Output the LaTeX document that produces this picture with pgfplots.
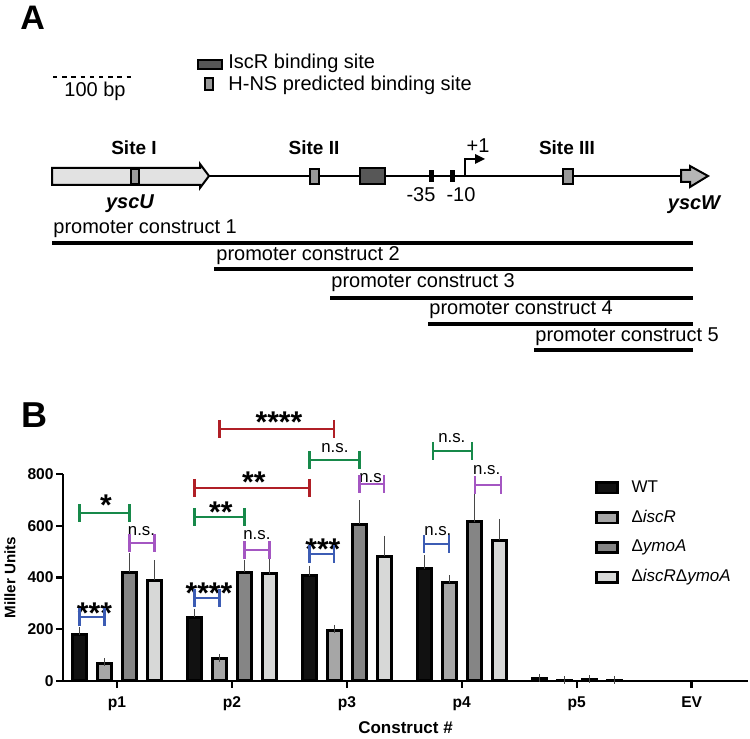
\documentclass[border=0pt]{standalone}
\usepackage{fontspec}
\setmainfont{Liberation Sans}
\usepackage{pgfplots}
\pgfplotsset{compat=1.18}
\usepackage{pgfplotstable}
\usetikzlibrary{arrows.meta}

\definecolor{bblue}{HTML}{3C5CB4}
\definecolor{bgreen}{HTML}{17894A}
\definecolor{bred}{HTML}{B01F26}
\definecolor{bpurple}{HTML}{A456C2}
\definecolor{cWT}{HTML}{111111}
\definecolor{cIscR}{HTML}{A6A6A6}
\definecolor{cYmoA}{HTML}{858585}
\definecolor{cDD}{HTML}{D7D8D7}
\definecolor{gLight}{HTML}{E2E2E2}
\definecolor{gHNS}{HTML}{999999}
\definecolor{gIscR}{HTML}{575757}
\definecolor{gW}{HTML}{B5B5B5}

% EV (x = 5) gave no visible signal, so it has no bars
\pgfplotstableread{
x   wt  ewt iscr eiscr ymoa eymoa dd  edd
0   180 12  68   4     420  60    390 62
1   246 18  86   3     420  33    414 46
2   406 24  195  6     606  77    483 62
3   434 36  379  14    615  91    544 67
4   8   4   2    1     5    2     3   1
}\data

\begin{document}
\begin{tikzpicture}
\useasboundingbox (0,0) rectangle (375pt,369.5pt);
% ---------------- Panel A (schematic, pixel coordinates) ----------------
\begin{scope}[shift={(0pt,369.5pt)}, x=0.5pt, y=-0.5pt,
  every node/.style={inner sep=0pt, font=\fontsize{10}{12}\selectfont}]
  \node[anchor=base west, font=\fontsize{17}{17}\selectfont\bfseries] at (20,30) {A};
  \node[anchor=base west, font=\fontsize{18}{18}\selectfont\bfseries] at (21,428) {B};
  % scale bar
  \draw[line width=1pt, dash pattern=on 2.2pt off 2.4pt] (53,77) -- (135,77);
  \node[anchor=base] at (95,97) {100 bp};
  % legend
  \draw[line width=0.9pt, fill=gIscR] (198,60) rectangle (222,69);
  \node[anchor=base west] at (228,69) {IscR binding site};
  \draw[line width=0.9pt, fill=gHNS] (205,78) rectangle (213,90);
  \node[anchor=base west] at (228,91) {H-NS predicted binding site};
  % gene line
  \draw[line width=1pt] (209,176) -- (681,176);
  \draw[line width=1pt, fill=gLight] (52,168) -- (200,168) -- (200,164) -- (209,176) -- (200,188) -- (200,185) -- (52,185) -- cycle;
  \draw[line width=0.9pt, fill=gHNS] (131,169) rectangle (139,184);
  \draw[line width=0.9pt, fill=gHNS] (310,169) rectangle (319,184);
  \draw[line width=0.9pt, fill=gIscR] (360,168) rectangle (385,184);
  \fill (429,170) rectangle (434,182);
  \fill (450,170) rectangle (455,182);
  \draw[line width=0.9pt] (465,176) -- (465,159) -- (476,159);
  \fill (475,154) -- (485,159) -- (475,164) -- cycle;
  \draw[line width=0.9pt, fill=gHNS] (563,169) rectangle (573,184);
  \draw[line width=1pt, fill=gW] (681,170) -- (690,170) -- (690,166) -- (708,176) -- (690,187) -- (690,182) -- (681,182) -- cycle;
  % labels
  \node[anchor=base, font=\fontsize{9.5}{11}\selectfont\bfseries] at (134,155) {Site I};
  \node[anchor=base, font=\fontsize{9.5}{11}\selectfont\bfseries] at (314,155) {Site II};
  \node[anchor=base, font=\fontsize{9.5}{11}\selectfont\bfseries] at (567,155) {Site III};
  \node[anchor=base] at (478,153) {+1};
  \node[anchor=base] at (421,202) {-35};
  \node[anchor=base] at (461,202) {-10};
  \node[anchor=base, font=\fontsize{10}{12}\selectfont\bfseries\itshape] at (130,209) {yscU};
  \node[anchor=base, font=\fontsize{10}{12}\selectfont\bfseries\itshape] at (694,210) {yscW};
  % promoter constructs
  \draw[line width=2.3pt] (52,243) -- (693,243);
  \node[anchor=base west] at (53,234) {promoter construct 1};
  \draw[line width=2.3pt] (214,269) -- (693,269);
  \node[anchor=base west] at (216,261) {promoter construct 2};
  \draw[line width=2.3pt] (330,298) -- (693,298);
  \node[anchor=base west] at (331,288) {promoter construct 3};
  \draw[line width=2.3pt] (428,324) -- (693,324);
  \node[anchor=base west] at (429,315) {promoter construct 4};
  \draw[line width=2.3pt] (534,350) -- (693,350);
  \node[anchor=base west] at (535,342) {promoter construct 5};
\end{scope}
% ---------------- Panel B (bar chart) ----------------
\begin{axis}[
  at={(31.5pt,29pt)}, anchor=south west, scale only axis,
  width=342.5pt, height=103.5pt,
  xmin=-0.47, xmax=5.49, ymin=0, ymax=800,
  clip=false,
  axis lines=left, axis line style={-, line width=1.2pt},
  xtick={0,1,2,3,4,5}, xticklabels={p1,p2,p3,p4,p5,EV},
  ytick={0,200,400,600,800},
  tick align=outside, major tick length=3.5pt,
  tick style={line width=1.2pt, black},
  /pgf/number format/assume math mode=true,
  ticklabel style={font=\fontsize{7.8}{8}\selectfont\bfseries},
  yticklabel style={inner sep=0pt, anchor=east, xshift=-1pt},
  xticklabel style={inner sep=0pt, anchor=north, yshift=-4pt},
  every axis y label/.style={at={([xshift=-26.5pt]axis description cs:0,0.5)}, rotate=90, anchor=center, font=\fontsize{7.6}{8}\selectfont\bfseries},
  every axis x label/.style={at={([yshift=-23.5pt]axis description cs:0.5,0)}, anchor=center, font=\fontsize{8.5}{9}\selectfont\bfseries},
  ylabel={Miller Units},
  xlabel={Construct \#},
  legend image code/.code={\draw[#1] (0pt,-2.6pt) rectangle (10.5pt,2.6pt);},
  legend style={at={(axis description cs:0.776,0.99)}, anchor=north west, draw=none, fill=none,
    inner sep=0pt, row sep=3.4pt, column sep=4.5pt, font=\fontsize{8.5}{10}\selectfont},
  legend cell align=left,
  brk/.style={line width=1.1pt, mark=|, mark options={line width=1.1pt, mark size=4.5pt, solid}},
  bars/.style={ybar, bar width=6.85pt, bar shift=0pt, draw=black, line width=1.5pt, forget plot,
    error bars/y dir=plus, error bars/y explicit,
    error bars/error bar style={line width=0.55pt, draw=black!72},
    error bars/error mark options={line width=0.55pt, mark size=2pt, draw=black!72}},
]
\addplot[bars, fill=cWT]   table[x expr=\thisrow{x}-0.326, y=wt,   y error=ewt]   {\data};
\addplot[bars, fill=cIscR] table[x expr=\thisrow{x}-0.109, y=iscr, y error=eiscr] {\data};
\addplot[bars, fill=cYmoA] table[x expr=\thisrow{x}+0.109, y=ymoa, y error=eymoa] {\data};
\addplot[bars, fill=cDD]   table[x expr=\thisrow{x}+0.326, y=dd,   y error=edd]   {\data};

\addlegendimage{fill=cWT, draw=black, line width=1.3pt}
\addlegendentry{WT}
\addlegendimage{fill=cIscR, draw=black, line width=1.3pt}
\addlegendentry{Δ\textit{iscR}}
\addlegendimage{fill=cYmoA, draw=black, line width=1.3pt}
\addlegendentry{Δ\textit{ymoA}}
\addlegendimage{fill=cDD, draw=black, line width=1.3pt}
\addlegendentry{Δ\textit{iscR}Δ\textit{ymoA}}

% significance brackets
\addplot[bblue, brk, forget plot] coordinates {(-0.326,247) (-0.109,247)};
\addplot[bgreen, brk, forget plot] coordinates {(-0.326,649) (0.109,649)};
\addplot[bpurple, brk, forget plot] coordinates {(0.109,533) (0.326,533)};
\addplot[bblue, brk, forget plot] coordinates {(0.674,321) (0.891,321)};
\addplot[bgreen, brk, forget plot] coordinates {(0.674,634) (1.109,634)};
\addplot[bred, brk, forget plot] coordinates {(0.674,746) (1.674,746)};
\addplot[bred, brk, forget plot] coordinates {(0.891,974) (1.891,974)};
\addplot[bpurple, brk, forget plot] coordinates {(1.109,506) (1.326,506)};
\addplot[bblue, brk, forget plot] coordinates {(1.674,490) (1.891,490)};
\addplot[bgreen, brk, forget plot] coordinates {(1.674,854) (2.109,854)};
\addplot[bpurple, brk, forget plot] coordinates {(2.109,761) (2.326,761)};
\addplot[bblue, brk, forget plot] coordinates {(2.674,529) (2.891,529)};
\addplot[bgreen, brk, forget plot] coordinates {(2.75,889) (3.09,889)};
\addplot[bpurple, brk, forget plot] coordinates {(3.113,757) (3.339,757)};

% significance labels
\tikzset{star/.style={anchor=base, inner sep=0pt, font=\fontsize{15}{15}\selectfont\bfseries},
         ns/.style={anchor=base, inner sep=0pt, font=\fontsize{8.4}{9}\selectfont}}
\node[star] at (axis cs:-0.196,224) {***};
\node[star] at (axis cs:-0.096,638) {*};
\node[ns]   at (axis cs:0.213,564) {n.s.};
\node[star] at (axis cs:0.80,298) {****};
\node[star] at (axis cs:0.904,611) {**};
\node[ns]   at (axis cs:1.217,545) {n.s.};
\node[star] at (axis cs:1.191,730) {**};
\node[star] at (axis cs:1.409,962) {****};
\node[star] at (axis cs:1.791,471) {***};
\node[ns]   at (axis cs:1.896,885) {n.s.};
\node[ns]   at (axis cs:2.226,769) {n.s.};
\node[ns]   at (axis cs:2.791,564) {n.s.};
\node[ns]   at (axis cs:2.913,920) {n.s.};
\node[ns]   at (axis cs:3.217,800) {n.s.};
\end{axis}
\end{tikzpicture}
\end{document}
